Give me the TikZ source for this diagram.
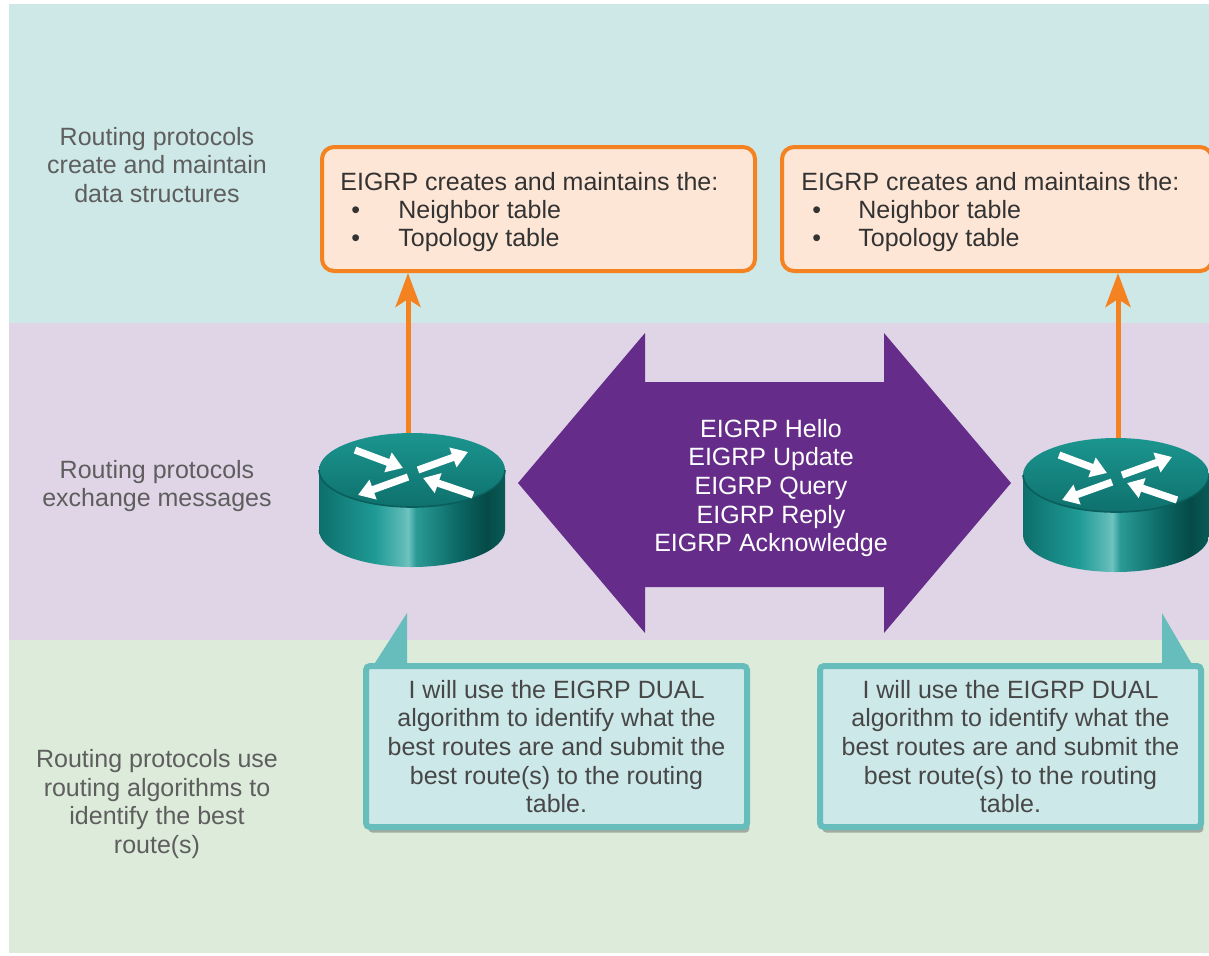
\documentclass[tikz,border=0pt]{standalone}
\usepackage{fontspec}
\setmainfont{Liberation Sans}
\usetikzlibrary{arrows.meta,shadows}
\definecolor{bandA}{HTML}{CDE8E6}
\definecolor{bandB}{HTML}{E0D5E7}
\definecolor{bandC}{HTML}{DCEBDA}
\definecolor{orangeline}{HTML}{F58220}
\definecolor{orangefill}{HTML}{FDE6D6}
\definecolor{purplearrow}{HTML}{652D89}
\definecolor{tealline}{HTML}{66BDBB}
\definecolor{tealfill}{HTML}{CDE8E8}
\definecolor{txtdark}{HTML}{333333}
\definecolor{txtgray}{HTML}{5E5E5E}
\definecolor{txtcall}{HTML}{474747}
\definecolor{rA}{HTML}{0D6F6B}
\definecolor{rB}{HTML}{1F9A95}
\definecolor{rC}{HTML}{5DB9B5}
\definecolor{rD}{HTML}{6FC3BF}
\definecolor{rE}{HTML}{2A9B96}
\definecolor{rF}{HTML}{0B6763}
\definecolor{rG}{HTML}{054B48}
\definecolor{rH}{HTML}{0A5A57}
\definecolor{rTopA}{HTML}{1C958F}
\definecolor{rTopB}{HTML}{0E716D}
\definecolor{rRim}{HTML}{0A5E5B}
\pgfdeclarehorizontalshading{routerside}{100bp}{color(0bp)=(rA); color(25bp)=(rA); color(40bp)=(rB); color(47.5bp)=(rC); color(49bp)=(rD); color(51bp)=(rE); color(62.5bp)=(rF); color(70bp)=(rG); color(75bp)=(rH); color(100bp)=(rH)}
\tikzset{
  basefont/.style={font=\fontsize{12.5}{14.35}\selectfont},
  lbl/.style={basefont, align=center, text=txtgray, inner sep=0pt},
  txt/.style={basefont, text=txtdark, inner sep=0pt, text height=9pt, text depth=0pt, anchor=west},
  obox/.style={draw=orangeline, line width=2pt, fill=orangefill, rounded corners=6pt,
    minimum width=216.5pt, minimum height=62pt, inner sep=0pt},
  oarrow/.style={draw=orangeline, line width=2.5pt, -{Stealth[length=17pt,width=12.5pt,inset=4pt]}},
  callbox/.style={basefont, draw=tealline, line width=3pt, fill=tealfill, rounded corners=2pt,
    minimum width=190.5pt, minimum height=80.5pt, align=center, text=txtcall, inner sep=0pt,
    drop shadow={shadow xshift=1.2pt, shadow yshift=-2.8pt, opacity=0.35, fill=black!80}},
  pointer/.style={fill=tealline},
  msgtext/.style={basefont, align=center, text=white, inner sep=0pt},
  routerspot/.style={minimum width=93pt, minimum height=68pt, inner sep=0pt},
  warrow/.style={white, line width=3.6pt, -{Triangle[width=10pt,length=8pt]}},
  routerpic/.pic={
    \shade[shading=routerside] (-93,0) -- (-93,60) arc[start angle=180,end angle=0,x radius=93,y radius=37] -- (93,0) -- cycle;
    \shade[top color=rTopA, bottom color=rTopB] (0,0) ellipse[x radius=93, y radius=37];
    \draw[rRim, line width=0.8pt] (-93,0) arc[start angle=180,end angle=0,x radius=93,y radius=37];
    \draw[warrow] (-57,-20) -- (-9,-2);
    \draw[warrow] (6,0) -- (56,-18);
    \draw[warrow] (-4,7) -- (-54,25);
    \draw[warrow] (61,25) -- (11,8);
  }
}
\begin{document}
\begin{tikzpicture}[x=0.5pt,y=-0.5pt]
\useasboundingbox (0,0) rectangle (1209,955);
\fill[white] (0,0) rectangle (1209,955);
% bands
\fill[bandA] (9,4) rectangle (1209,323);
\fill[bandB] (9,323) rectangle (1209,640);
\fill[bandC] (9,640) rectangle (1209,953);
% left labels
\node[lbl] (l1) at (157,165) {Routing protocols\\create and maintain\\data structures};
\node[lbl] (l2) at (157,486) {Routing protocols\\exchange messages};
\node[lbl] (l3) at (157,804) {Routing protocols use\\routing algorithms to\\identify the best\\route(s)};
% orange boxes
\node[obox] (box1) at (538.5,209) {};
\node[obox, minimum width=215pt] (box2) at (997,209) {};
\node[txt] (b1t) at (340,181) {EIGRP creates and maintains the:};
\node[txt] (b1a) at (351,209) {\makebox[23.5pt][l]{•}Neighbor table};
\node[txt] (b1b) at (351,237) {\makebox[23.5pt][l]{•}Topology table};
\node[txt] (b2t) at (801,181) {EIGRP creates and maintains the:};
\node[txt] (b2a) at (812,209) {\makebox[23pt][l]{•}Neighbor table};
\node[txt] (b2b) at (812,237) {\makebox[23pt][l]{•}Topology table};
% routers
\node[routerspot] (r1) at (412,501) {};
\node[routerspot] (r2) at (1116,506) {};
\draw[oarrow] ([xshift=-2pt]r1.north) -- ([xshift=-2pt]r1.north |- box1.south);
\draw[oarrow] ([xshift=1pt]r2.north) -- ([xshift=1pt]r2.north |- box2.south);
\pic at (412,470) {routerpic};
\pic at (1116,475) {routerpic};
% purple double arrow
\fill[purplearrow] (518,483) -- (645,333) -- (645,382) -- (884,382) -- (884,333) -- (1011,483)
  -- (884,633) -- (884,587) -- (645,587) -- (645,633) -- cycle;
\node[msgtext] (msgs) at (771,488) {EIGRP Hello\\EIGRP Update\\EIGRP Query\\EIGRP Reply\\EIGRP Acknowledge};
% callouts
\node[callbox] (c1) at (556.5,746.5) {I will use the EIGRP DUAL\\algorithm to identify what the\\best routes are and submit the\\best route(s) to the routing\\table.};
\node[callbox] (c2) at (1010.5,746.5) {I will use the EIGRP DUAL\\algorithm to identify what the\\best routes are and submit the\\best route(s) to the routing\\table.};
\fill[pointer] (373,666) -- (407,613) -- (407,666) -- cycle;
\fill[pointer] (1162,666) -- (1162,613) -- (1193,666) -- cycle;
\end{tikzpicture}
\end{document}
